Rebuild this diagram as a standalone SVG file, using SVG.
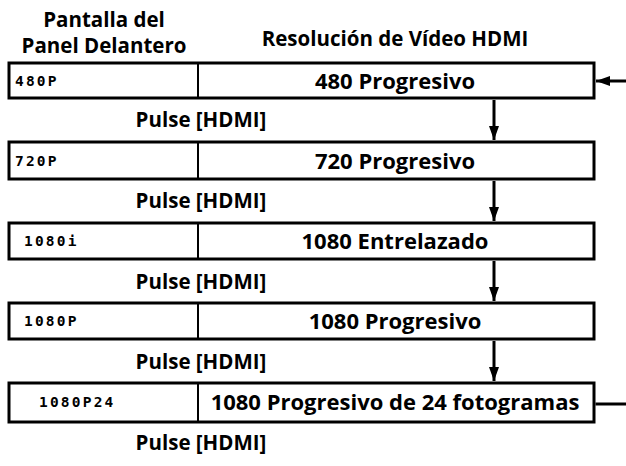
<svg xmlns="http://www.w3.org/2000/svg" width="626" height="466" viewBox="0 0 626 466">
<defs>
<style>
.box{fill:#fff;stroke:#000;stroke-width:3}
.div{stroke:#000;stroke-width:2}
.hdr{font-family:"Open Sans","Liberation Sans",sans-serif;font-weight:700;font-size:20.5px;fill:#000;text-anchor:middle}
.lbl{font-family:"Open Sans","Liberation Sans",sans-serif;font-weight:700;font-size:22px;fill:#000;text-anchor:middle}
.lcd{font-family:"DejaVu Sans Mono","Liberation Mono",monospace;font-weight:700;font-size:14.5px;letter-spacing:2.2px;fill:#000}
.pulse{font-family:"Open Sans","Liberation Sans",sans-serif;font-weight:700;font-size:20.5px;fill:#000;text-anchor:middle}
.con{stroke:#000;stroke-width:3;fill:none}
</style>
<marker id="ah" viewBox="0 0 14 10" refX="14" refY="5" markerWidth="14" markerHeight="10" orient="auto" markerUnits="userSpaceOnUse">
<path d="M0,0 L14,5 L0,10 z" fill="#000"/>
</marker>
</defs>
<rect width="626" height="466" fill="#fff"/>
<g id="headers">
<text class="hdr" x="104" y="27">Pantalla del</text>
<text class="hdr" x="104" y="53">Panel Delantero</text>
<text class="hdr" x="395" y="46">Resolución de Vídeo HDMI</text>
</g>
<g id="n480">
<rect class="box" x="9" y="63" width="585" height="35"/>
<line class="div" x1="198" y1="63" x2="198" y2="98"/>
<text class="lcd" x="15" y="85.5">480P</text>
<text class="lbl" x="395" y="88.5">480 Progresivo</text>
</g>
<g id="n720">
<rect class="box" x="9" y="142" width="585" height="37"/>
<line class="div" x1="198" y1="142" x2="198" y2="179"/>
<text class="lcd" x="15" y="165.5">720P</text>
<text class="lbl" x="395" y="168.5">720 Progresivo</text>
</g>
<g id="n1080i">
<rect class="box" x="9" y="223" width="585" height="36"/>
<line class="div" x1="198" y1="223" x2="198" y2="259"/>
<text class="lcd" x="24" y="246">1080i</text>
<text class="lbl" x="395" y="249">1080 Entrelazado</text>
</g>
<g id="n1080p">
<rect class="box" x="9" y="303" width="585" height="36"/>
<line class="div" x1="198" y1="303" x2="198" y2="339"/>
<text class="lcd" x="24" y="326">1080P</text>
<text class="lbl" x="395" y="329">1080 Progresivo</text>
</g>
<g id="n1080p24">
<rect class="box" x="9" y="383" width="585" height="39"/>
<line class="div" x1="198" y1="383" x2="198" y2="422"/>
<text class="lcd" x="39" y="407">1080P24</text>
<text class="lbl" x="395" y="410">1080 Progresivo de 24 fotogramas</text>
</g>
<g id="pulses">
<text class="pulse" x="201" y="127">Pulse [HDMI]</text>
<text class="pulse" x="201" y="208">Pulse [HDMI]</text>
<text class="pulse" x="201" y="289">Pulse [HDMI]</text>
<text class="pulse" x="201" y="369">Pulse [HDMI]</text>
<text class="pulse" x="201" y="450">Pulse [HDMI]</text>
</g>
<g id="connectors">
<line class="con" x1="494" y1="100" x2="494" y2="140" marker-end="url(#ah)"/>
<line class="con" x1="494" y1="181" x2="494" y2="221" marker-end="url(#ah)"/>
<line class="con" x1="494" y1="261" x2="494" y2="301" marker-end="url(#ah)"/>
<line class="con" x1="494" y1="341" x2="494" y2="381" marker-end="url(#ah)"/>
<line class="con" x1="595.5" y1="404" x2="626" y2="404"/>
<line class="con" x1="626" y1="81" x2="596" y2="81" marker-end="url(#ah)"/>
</g>
</svg>
